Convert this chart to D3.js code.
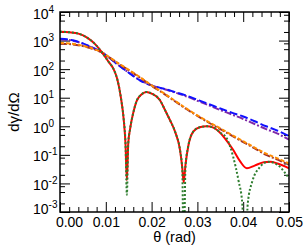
<!DOCTYPE html>
<html>
<head>
<meta charset="utf-8">
<script src="https://cdn.jsdelivr.net/npm/d3@7"></script>
<style>
  html, body { margin: 0; padding: 0; background: #fff; }
  svg { display: block; font-family: "Liberation Sans", Arial, sans-serif; }
</style>
</head>
<body>
<script>
// SIZE
const width = 307;
const height = 245;
const margin = {top: 12, right: 18, bottom: 33, left: 60};

// DATA

// common theta grid for the smooth curves
const thetaSmooth = [0, 0.0025, 0.005, 0.0075, 0.009, 0.0105, 0.0125, 0.015, 0.0175, 0.02,
                     0.0225, 0.025, 0.0275, 0.03, 0.0325, 0.035, 0.0375, 0.04, 0.0425, 0.045, 0.0475, 0.05];
const blueDashed   = [1150, 1050, 800, 530, 400, 270, 150, 75, 40, 27,
                      21, 16, 12, 8.5, 6, 4.2, 3.0, 2.2, 1.5, 1.0, 0.7, 0.45];
const purpleDashDot = [1100, 1010, 780, 520, 400, 270, 150, 76, 41, 27,
                       20.5, 15.5, 11.3, 7.8, 5.4, 3.7, 2.6, 1.8, 1.2, 0.8, 0.55, 0.34];
const orangeDashed = [820, 780, 660, 500, 400, 280, 170, 95, 52, 27,
                      15, 8, 4.3, 2.4, 1.4, 0.85, 0.5, 0.3, 0.18, 0.11, 0.075, 0.05];
const brownDashDot = [780, 745, 640, 490, 395, 275, 165, 92, 50, 26,
                      14.5, 7.7, 4.1, 2.3, 1.33, 0.8, 0.47, 0.28, 0.17, 0.1, 0.068, 0.045];

// oscillating curves
const thetaGreen = [0, 0.002, 0.004, 0.006, 0.0075, 0.009, 0.0105, 0.0117, 0.0125, 0.0133, 0.0139, 0.0143,
                    0.0146, 0.0149, 0.0153, 0.016, 0.0167, 0.0178, 0.0189, 0.02, 0.0218, 0.023, 0.024, 0.0252,
                    0.0262, 0.0267, 0.027, 0.0274, 0.028, 0.0291, 0.0305, 0.032, 0.0335, 0.035, 0.0364,
                    0.0378, 0.039, 0.0398, 0.0404, 0.041, 0.042, 0.0435, 0.0455, 0.0475, 0.049, 0.05];
const greenDotted = [2050, 1950, 1750, 1250, 800, 420, 190, 100, 45, 10, 1.8, 0.25,
                     0.004, 0.25, 0.8, 3, 7.5, 13, 16, 14, 8.3, 3.5, 1.66, 0.6,
                     0.15, 0.03, 0.00001, 0.04, 0.2, 0.65, 0.92, 1.0, 0.9, 0.6, 0.38,
                     0.087, 0.012, 0.002, 0.00001, 0.002, 0.012, 0.035, 0.057, 0.045, 0.025, 0.015];

const thetaRed = [0, 0.002, 0.004, 0.006, 0.0075, 0.009, 0.0105, 0.0117, 0.0125, 0.0133, 0.0139, 0.0143,
                  0.0146, 0.0149, 0.0153, 0.016, 0.0167, 0.0178, 0.0189, 0.02, 0.0218, 0.023, 0.024, 0.0252,
                  0.0262, 0.0267, 0.027, 0.0274, 0.028, 0.0291, 0.0305, 0.032, 0.0335, 0.0345, 0.036,
                  0.0378, 0.0393, 0.0408, 0.0425, 0.0445, 0.0459, 0.0475, 0.05];
const redSolid = [2050, 1950, 1750, 1250, 800, 420, 190, 100, 45, 10, 1.8, 0.25,
                  0.013, 0.25, 0.8, 3, 7.5, 13, 16, 14, 8.3, 3.5, 1.66, 0.6,
                  0.15, 0.035, 0.011, 0.045, 0.2, 0.65, 0.92, 1.0, 0.9, 0.7, 0.38,
                  0.15, 0.06, 0.034, 0.042, 0.055, 0.057, 0.05, 0.034];

// axis ticks
const xMajorTicks = [0, 0.01, 0.02, 0.03, 0.04, 0.05];
const yExponents = [-3, -2, -1, 0, 1, 2, 3, 4];
const yMinorFactors = [2, 5, 8];

// SERIES TABLE (drawing order: bottom first)
const series = [
  {theta: thetaSmooth, values: purpleDashDot, color: '#7f2aa8', dash: '7,2,2,2'},
  {theta: thetaSmooth, values: blueDashed,    color: '#1010ff', dash: '8,3'},
  {theta: thetaSmooth, values: brownDashDot,  color: '#a0302a', dash: '7,2,2,2'},
  {theta: thetaSmooth, values: orangeDashed,  color: '#ff8c00', dash: '4,2'},
  {theta: thetaRed,    values: redSolid,      color: '#ff0000', dash: null},
  {theta: thetaGreen,  values: greenDotted,   color: '#2e7d2e', dash: '2,2'}
];

// SVG
const svg = d3.select('body')
  .append('svg')
  .attr('width', width)
  .attr('height', height);

// SCALES
const xScale = d3.scaleLinear()
  .domain([0, 0.05])
  .range([margin.left, width - margin.right]);

const yScale = d3.scaleLog()
  .domain([1e-3, 1e4])
  .range([height - margin.bottom, margin.top]);

const x0 = margin.left, x1 = width - margin.right;
const y0 = height - margin.bottom, y1 = margin.top;

// clip for the curves
svg.append('clipPath')
  .attr('id', 'plotclip')
  .append('rect')
  .attr('x', x0)
  .attr('y', y1)
  .attr('width', x1 - x0)
  .attr('height', y0 - y1);

// TICKS
const xMinorTicks = d3.range(0, 0.0501, 0.002).filter(v => Math.abs(v / 0.01 - Math.round(v / 0.01)) > 1e-6);
const yMajorTicks = yExponents.map(e => Math.pow(10, e));
const yMinorTicks = [];
yExponents.slice(0, -1).forEach(e => yMinorFactors.forEach(f => yMinorTicks.push(f * Math.pow(10, e))));

function styleAxis(g) {
  g.select('.domain').remove();
  g.selectAll('.tick line').attr('stroke', '#000').attr('stroke-width', 1);
}

// bottom axis (major with labels)
svg.append('g')
  .attr('class', 'axis x bottom')
  .attr('transform', 'translate(0,' + y0 + ')')
  .call(d3.axisBottom(xScale).tickValues(xMajorTicks).tickSize(-10).tickFormat(d3.format('.2f')))
  .call(styleAxis)
  .call(g => g.selectAll('text')
    .attr('y', 15)
    .attr('dy', 0)
    .attr('font-size', 14)
    .attr('fill', '#000')
    .attr('dx', (d) => d === 0 ? 9 : 0));

svg.append('g')
  .attr('transform', 'translate(0,' + y0 + ')')
  .call(d3.axisBottom(xScale).tickValues(xMinorTicks).tickSize(-5).tickFormat(''))
  .call(styleAxis);

// top axis
svg.append('g')
  .attr('transform', 'translate(0,' + y1 + ')')
  .call(d3.axisTop(xScale).tickValues(xMajorTicks).tickSize(-10).tickFormat(''))
  .call(styleAxis);
svg.append('g')
  .attr('transform', 'translate(0,' + y1 + ')')
  .call(d3.axisTop(xScale).tickValues(xMinorTicks).tickSize(-5).tickFormat(''))
  .call(styleAxis);

// left axis with 10^n labels
svg.append('g')
  .attr('class', 'axis y left')
  .attr('transform', 'translate(' + x0 + ',0)')
  .call(d3.axisLeft(yScale).tickValues(yMajorTicks).tickSize(-10).tickFormat(''))
  .call(styleAxis)
  .call(g => g.selectAll('.tick').each(function(d, i) {
    const t = d3.select(this).select('text')
      .attr('x', -27)
      .attr('dy', 0)
      .attr('y', yExponents[i] === -3 ? 1.5 : 6)
      .attr('text-anchor', 'start')
      .attr('fill', '#000')
      .attr('font-size', 14);
    t.append('tspan').text('10');
    t.append('tspan').attr('font-size', 10).attr('dy', -6).text(String(yExponents[i]));
  }));

svg.append('g')
  .attr('transform', 'translate(' + x0 + ',0)')
  .call(d3.axisLeft(yScale).tickValues(yMinorTicks).tickSize(-5).tickFormat(''))
  .call(styleAxis);

// right axis
svg.append('g')
  .attr('transform', 'translate(' + x1 + ',0)')
  .call(d3.axisRight(yScale).tickValues(yMajorTicks).tickSize(-10).tickFormat(''))
  .call(styleAxis);
svg.append('g')
  .attr('transform', 'translate(' + x1 + ',0)')
  .call(d3.axisRight(yScale).tickValues(yMinorTicks).tickSize(-5).tickFormat(''))
  .call(styleAxis);

// CURVES
const line = d3.line()
  .x(d => xScale(d[0]))
  .y(d => yScale(d[1]))
  .curve(d3.curveMonotoneX);

svg.append('g')
  .attr('class', 'curves')
  .attr('clip-path', 'url(#plotclip)')
  .selectAll('path')
  .data(series)
  .join('path')
  .attr('d', s => line(s.theta.map((t, i) => [t, s.values[i]])))
  .attr('fill', 'none')
  .attr('stroke', s => s.color)
  .attr('stroke-width', 2)
  .attr('stroke-dasharray', s => s.dash);

// FRAME
svg.append('rect')
  .attr('x', x0)
  .attr('y', y1)
  .attr('width', x1 - x0)
  .attr('height', y0 - y1)
  .attr('fill', 'none')
  .attr('stroke', '#000')
  .attr('stroke-width', 1.5);

// AXIS TITLES
svg.append('text')
  .attr('x', (x0 + x1) / 2)
  .attr('y', 242)
  .attr('text-anchor', 'middle')
  .attr('font-size', 14.5)
  .text('θ (rad)');

svg.append('text')
  .attr('transform', 'translate(19,' + ((y0 + y1) / 2) + ') rotate(-90)')
  .attr('text-anchor', 'middle')
  .attr('font-size', 15)
  .text('dγ/dΩ');
</script>
</body>
</html>
